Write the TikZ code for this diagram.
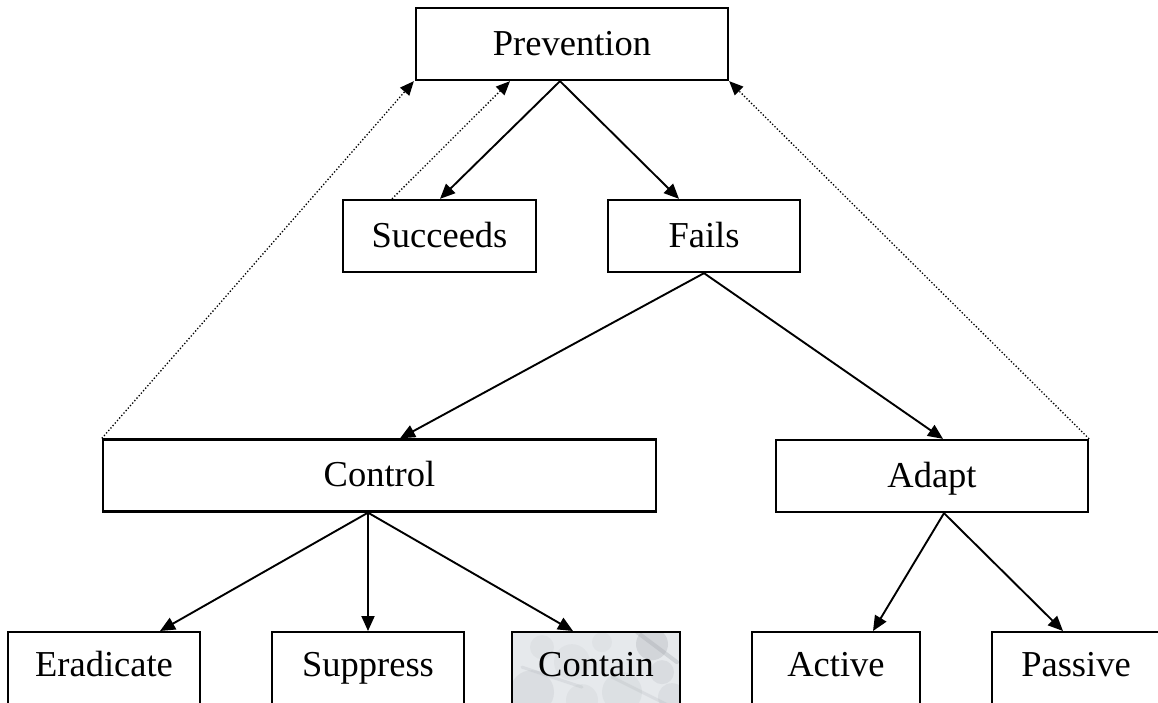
\documentclass[tikz,border=0pt]{standalone}
\usepackage{fontspec}
\setmainfont{Liberation Serif}
\usetikzlibrary{arrows.meta}
\definecolor{marble}{RGB}{230,233,236}
\definecolor{vein}{RGB}{165,170,176}
\tikzset{
  box/.style={draw=black, line width=2.3pt, fill=white, inner sep=0pt,
    minimum height=72pt, text height=28pt, text depth=6pt, font=\fontsize{36.5}{40}\selectfont},
  lowbox/.style={draw=black, line width=2.3pt, fill=white, inner xsep=0pt, inner ysep=0pt,
    anchor=north, text height=44pt, text depth=70pt, font=\fontsize{36.5}{40}\selectfont},
  marblefill/.style={fill=marble, path picture={
    \foreach \x/\y/\r/\o in {20/60/22/0.18, 60/30/18/0.10, 140/12/16/0.30, 150/40/12/0.2, 110/60/20/0.14, 30/15/12/0.12, 90/10/10/0.1, 160/65/14/0.16, 70/68/16/0.12}{
      \fill[vein, opacity=\o]
        ([shift={(\x pt,-\y pt)}]path picture bounding box.north west) circle[radius=\r pt];
    }
    \foreach \a/\b/\c/\d/\w/\o in {125/0/165/30/4/0.35, 10/35/70/55/3/0.2, 100/45/160/75/3/0.2}{
      \draw[vein, line width=\w pt, opacity=\o, line cap=round]
        ([shift={(\a pt,-\b pt)}]path picture bounding box.north west) --
        ([shift={(\c pt,-\d pt)}]path picture bounding box.north west);
    }}},
  arr/.style={-{Triangle[length=15pt,width=13pt]}, line width=1.9pt},
  dotarr/.style={-{Triangle[length=14pt,width=12pt]}, line width=1.3pt, dotted},
}
\begin{document}
\begin{tikzpicture}[x=1pt,y=-1pt]
\useasboundingbox (0,0) rectangle (1158,702);
\begin{scope}
\clip (0,0) rectangle (1158,702);
\node[box, minimum width=312pt] (prev) at (572,44) {Prevention};
\node[box, minimum width=193pt] (succ) at (439.5,236) {Succeeds};
\node[box, minimum width=192pt] (fails) at (704,236) {Fails};
\node[box, minimum width=553pt] (ctrl) at (379.5,475.5) {Control};
\node[box, minimum width=312pt] (adapt) at (932,476) {Adapt};
\node[lowbox, minimum width=192pt] (erad) at (104,631) {Eradicate};
\node[lowbox, minimum width=192pt] (supp) at (368,631) {Suppress};
\node[lowbox, minimum width=168pt, marblefill] (cont) at (596,631) {Contain};
\node[lowbox, minimum width=168pt] (act) at (836,631) {Active};
\node[lowbox, minimum width=168pt] (pass) at (1076,631) {Passive};

\draw[arr] ([xshift=-12pt]prev.south) -- ([xshift=0.5pt]succ.north);
\draw[arr] ([xshift=-12pt]prev.south) -- ([xshift=-25pt]fails.north);
\draw[arr] (fails.south) -- ([xshift=20.5pt]ctrl.north);
\draw[arr] (fails.south) -- ([xshift=11pt]adapt.north);
\draw[arr] ([xshift=-11.5pt]ctrl.south) -- ([xshift=56pt]erad.north);
\draw[arr] ([xshift=-11.5pt]ctrl.south) -- (supp.north);
\draw[arr] ([xshift=-11.5pt]ctrl.south) -- ([xshift=-23pt]cont.north);
\draw[arr] ([xshift=12pt]adapt.south) -- ([xshift=37pt]act.north);
\draw[arr] ([xshift=12pt]adapt.south) -- ([xshift=-13pt]pass.north);

\draw[dotarr] (ctrl.north west) -- ([xshift=-1pt]prev.south west);
\draw[dotarr] ([xshift=-47.5pt]succ.north) -- ([xshift=-62pt]prev.south);
\draw[dotarr] (adapt.north east) -- (prev.south east);
\end{scope}
\end{tikzpicture}
\end{document}
